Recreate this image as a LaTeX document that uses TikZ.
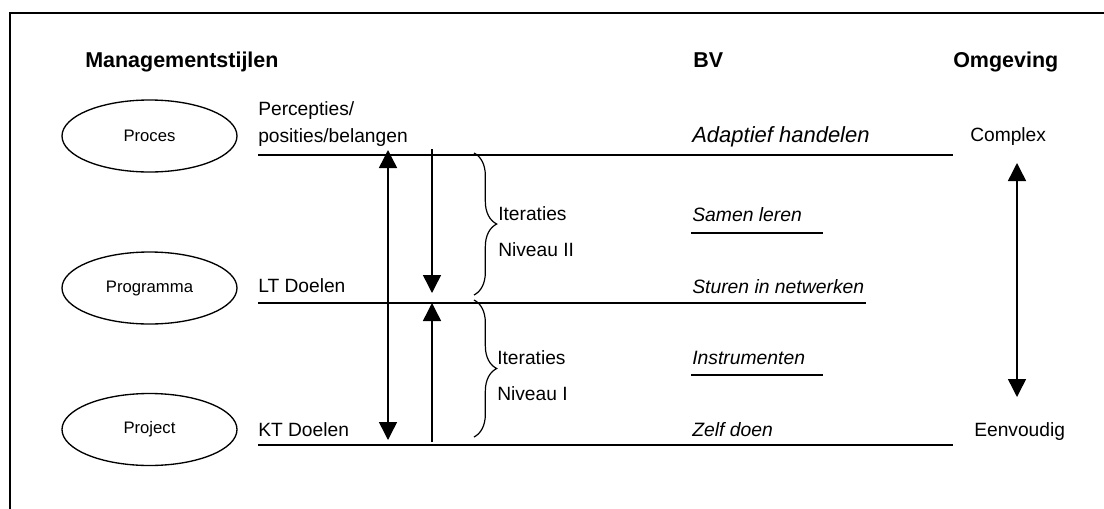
\documentclass[tikz,border=0pt]{standalone}
\usepackage{fontspec}
\setmainfont{Liberation Sans}
\usetikzlibrary{arrows.meta,decorations.pathreplacing,shapes.geometric}
\begin{document}
\begin{tikzpicture}[x=0.75pt,y=-0.75pt,
  lbl/.style={inner sep=0pt,anchor=base west,font=\fontsize{14.4}{17}\selectfont},
  hdr/.style={inner sep=0pt,anchor=base west,font=\fontsize{16.1}{19}\selectfont\bfseries},
  bv/.style={inner sep=0pt,anchor=base west,font=\fontsize{14.5}{17}\selectfont\itshape},
  bvgroot/.style={inner sep=0pt,anchor=base west,font=\fontsize{16.5}{19}\selectfont\itshape},
  stijl/.style={draw,ellipse,minimum width=131.25pt,minimum height=54pt,inner sep=0pt,line width=1pt,font=\fontsize{12.5}{14}\selectfont},
  lijn/.style={line width=1.1pt},
  tip/.tip={Triangle[width=13.5pt,length=13.5pt]},
  pijl/.style={line width=1.1pt,-tip},
  dpijl/.style={line width=1.1pt,tip-tip},
  accolade/.style={decorate,decoration={brace,amplitude=17pt},line width=0.9pt}]
\useasboundingbox (0,0) rectangle (1104,508);
% frame
\coordinate (fTR) at (1110,13);
\coordinate (fTL) at (10,13);
\coordinate (fBL) at (10,514);
\draw[lijn] (fTR) -- (fTL) -- (fBL);
% headers
\node[hdr] (h1) at (85,67) {Managementstijlen};
\node[hdr] (h2) at (693,67) {BV};
\node[hdr] (h3) at (953,67) {Omgeving};
% ellipses
\node[stijl] (proces) at (149.5,136) {Proces};
\node[stijl] (programma) at (149.5,288) {Programma};
\node[stijl] (project) at (149.5,429.5) {Project};
% left labels
\node[lbl] (perc) at (258,115) {Percepties/};
\node[lbl] (pos) at (258,142) {posities/belangen};
\node[lbl] (lt) at (258,292) {LT Doelen};
\node[lbl] (kt) at (258,436) {KT Doelen};
% lines
\coordinate (l1a) at (258,155); \coordinate (l1b) at (953,155);
\coordinate (l2a) at (258,303); \coordinate (l2b) at (866,303);
\coordinate (l3a) at (258,445); \coordinate (l3b) at (953,445);
\coordinate (u1a) at (691,233); \coordinate (u1b) at (823,233);
\coordinate (u2a) at (691,375); \coordinate (u2b) at (823,375);
\draw[lijn] (l1a) -- (l1b);
\draw[lijn] (l2a) -- (l2b);
\draw[lijn] (l3a) -- (l3b);
\draw[lijn] (u1a) -- (u1b);
\draw[lijn] (u2a) -- (u2b);
% BV texts
\node[bvgroot] (adapt) at (692,142) {Adaptief handelen};
\node[bv] (samen) at (692,221) {Samen leren};
\node[bv] (sturen) at (692,293) {Sturen in netwerken};
\node[bv] (instr) at (692,364) {Instrumenten};
\node[bv] (zelf) at (692,436) {Zelf doen};
% Omgeving
\node[lbl] (complex) at (970,141) {Complex};
\node[lbl] (eenv) at (974,436) {Eenvoudig};
% arrows
\coordinate (a1t) at (388,150); \coordinate (a1b) at (388,440);
\coordinate (a2t) at (432,149); \coordinate (a2b) at (432,293);
\coordinate (a3b) at (432,442); \coordinate (a3t) at (432,303);
\coordinate (a4t) at (1017,163); \coordinate (a4b) at (1017,397);
\draw[dpijl] (a1t) -- (a1b);
\draw[pijl] (a2t) -- (a2b);
\draw[pijl] (a3b) -- (a3t);
\draw[dpijl] (a4t) -- (a4b);
% braces
\coordinate (b1t) at (474,153); \coordinate (b1b) at (474,295);
\coordinate (b2t) at (474,300); \coordinate (b2b) at (474,437);
\draw[accolade] (b1t) -- (b1b);
\draw[accolade] (b2t) -- (b2b);
\node[lbl] (it2) at (498,220) {Iteraties};
\node[lbl] (nv2) at (498,256) {Niveau II};
\node[lbl] (it1) at (497,364) {Iteraties};
\node[lbl] (nv1) at (497,400) {Niveau I};
\end{tikzpicture}
\end{document}
